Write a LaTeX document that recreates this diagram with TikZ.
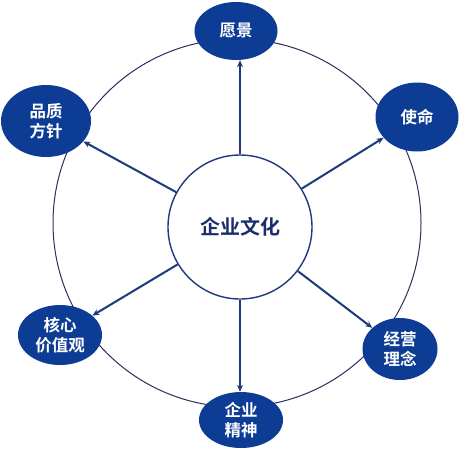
\documentclass[tikz,border=0pt]{standalone}
\usepackage{fontspec}
\setmainfont{Noto Sans CJK SC}[BoldFont={Noto Sans CJK SC Bold}]
\usetikzlibrary{arrows.meta,shapes.geometric}
\definecolor{navy}{HTML}{0D3C94}
\definecolor{linec}{HTML}{1E3A7C}
\definecolor{ringc}{HTML}{2E2E5E}
\definecolor{ctext}{HTML}{1A2E6B}
\tikzset{
  outer/.style={ellipse, fill=navy, text=white, font=\bfseries\fontsize{16.5}{20}\selectfont, align=center, inner sep=0pt},
  hub/.style={circle, draw=linec, line width=1.4pt, fill=white, minimum size=144pt, inner sep=0pt, text=ctext, font=\bfseries\fontsize{20}{22}\selectfont},
  arr/.style={draw=linec, line width=2pt, -{Stealth[length=7pt,width=6pt]}},
  varr/.style={draw=linec, line width=1.5pt, -{Stealth[length=7pt,width=6pt]}},
  ring/.style={draw=ringc, line width=1pt}
}
\begin{document}
\begin{tikzpicture}[x=1pt,y=-1pt]
\useasboundingbox (0,0) rectangle (462,451);
\fill[white] (0,0) rectangle (462,451);
\draw[ring] (237,223) circle[radius=184];
\node[hub] (c) at (240,227) {企业文化};
\node[outer, minimum width=83pt, minimum height=58pt] (n1) at (236,31) {愿景};
\node[outer, minimum width=83pt, minimum height=69pt] (n2) at (417,117) {使命};
\node[outer, minimum width=90pt, minimum height=72pt] (n3) at (46,121) {品质\\方针};
\node[outer, minimum width=84pt, minimum height=60pt] (n4) at (60,335) {核心\\价值观};
\node[outer, minimum width=75pt, minimum height=62pt] (n5) at (400,349) {经营\\理念};
\node[outer, minimum width=84pt, minimum height=56pt] (n6) at (241,420) {企业\\精神};
\draw[varr] (c.north) -- (c.north |- n1.south);
\draw[arr] (c) -- (n2);
\draw[arr] (c) -- (n3);
\draw[arr] (c) -- (n4);
\draw[arr] (c) -- (n5);
\draw[varr] (c.south) -- (c.south |- n6.north);
\end{tikzpicture}
\end{document}
